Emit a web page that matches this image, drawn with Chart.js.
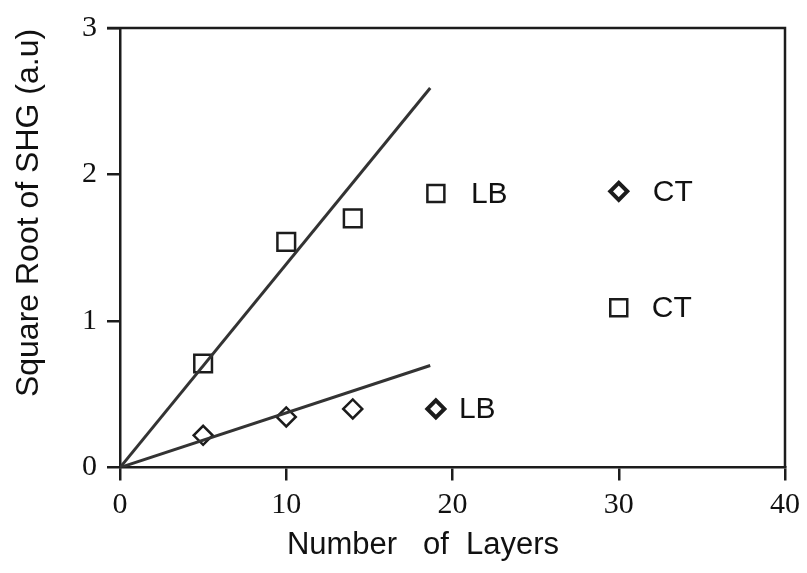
<!DOCTYPE html>
<html>
<head>
<meta charset="utf-8">
<script src="https://cdn.jsdelivr.net/npm/chart.js@4.4.1/dist/chart.umd.min.js"></script>
<style>
  html, body { margin: 0; padding: 0; background: #fff; }
  #wrap { width: 807px; height: 573px; }
</style>
</head>
<body>
<div id="wrap"><canvas id="c"></canvas></div>
<script>
// data
const layers = [5, 10, 14];
const sqValues = [0.71, 1.54, 1.70];
const dmValues = [0.22, 0.345, 0.40];

// fitted lines through the origin
const fitX = [0, 18.66];
const fitSq = [0, 2.59];
const fitDm = [0, 0.696];

// in-plot key (marker + label)
const keyLabels = ['LB', 'CT', 'CT', 'LB'];
const keyStyles = ['rect', 'rectRot', 'rect', 'rectRot'];
const keyX = [19, 30, 30, 19];
const keyY = [1.87, 1.885, 1.09, 0.40];

const xTicks = [0, 10, 20, 30, 40];
const yTicks = [0, 1, 2, 3];

const INK = '#1c1c1c';
const pts = (xs, ys) => xs.map((x, i) => ({ x, y: ys[i] }));

// frame, key labels and axis titles
const decor = {
  id: 'decor',
  afterDraw(chart) {
    const { ctx, chartArea: a, scales: { x, y } } = chart;
    ctx.save();
    ctx.strokeStyle = INK;
    ctx.lineWidth = 2.5;
    ctx.beginPath();
    ctx.moveTo(a.left - 13, a.top);
    ctx.lineTo(a.right, a.top);
    ctx.lineTo(a.right, a.bottom);
    ctx.stroke();

    ctx.fillStyle = '#111';
    ctx.font = '30px "Liberation Sans", Arial, sans-serif';
    ctx.textBaseline = 'middle';
    const gaps = [35, 34, 33, 23];
    keyLabels.forEach((t, i) => {
      ctx.fillText(t, x.getPixelForValue(keyX[i]) + gaps[i], y.getPixelForValue(keyY[i]) + 1);
    });

    ctx.textAlign = 'center';
    ctx.font = '31px "Liberation Sans", Arial, sans-serif';
    ctx.fillText('Number   of  Layers', 423, 545);

    ctx.translate(29, 213);
    ctx.rotate(-Math.PI / 2);
    ctx.font = '32px "Liberation Sans", Arial, sans-serif';
    ctx.fillText('Square Root of SHG (a.u)', 0, 0);
    ctx.restore();
  }
};

new Chart(document.getElementById('c'), {
  type: 'scatter',
  data: {
    datasets: [
      {
        type: 'line', data: pts(fitX, fitSq), borderColor: '#333', borderWidth: 3,
        pointRadius: 0, fill: false,
      },
      {
        type: 'line', data: pts(fitX, fitDm), borderColor: '#333', borderWidth: 3,
        pointRadius: 0, fill: false,
      },
      {
        data: pts(layers, sqValues), pointStyle: 'rect', pointRadius: 12.5,
        borderColor: INK, borderWidth: 2.5, backgroundColor: 'rgba(0,0,0,0)',
      },
      {
        data: pts(layers, dmValues), pointStyle: 'rectRot', pointRadius: 9.5,
        borderColor: INK, borderWidth: 2.5, backgroundColor: 'rgba(0,0,0,0)',
      },
      {
        data: pts(keyX, keyY), pointStyle: keyStyles,
        pointRadius: keyStyles.map(s => s === 'rect' ? 12 : 8.5),
        pointBorderWidth: keyStyles.map(s => s === 'rect' ? 2.5 : 4),
        borderColor: INK, backgroundColor: 'rgba(0,0,0,0)',
      },
    ],
  },
  options: {
    responsive: true,
    maintainAspectRatio: false,
    animation: false,
    events: [],
    layout: { padding: { top: 26, right: 19, left: 0, bottom: 0 } },
    plugins: { legend: { display: false }, tooltip: { enabled: false } },
    scales: {
      x: {
        type: 'linear', min: 0, max: 40,
        afterBuildTicks: s => { s.ticks = xTicks.map(v => ({ value: v })); },
        afterFit: s => { s.height = 105.5; },
        grid: { drawOnChartArea: false, drawTicks: true, tickLength: 13, color: INK, lineWidth: 2.5 },
        border: { display: true, color: INK, width: 2.5 },
        ticks: {
          color: '#111', padding: 7,
          font: { family: '"Liberation Serif", "Times New Roman", serif', size: 30 },
        },
      },
      y: {
        type: 'linear', min: 0, max: 3,
        afterBuildTicks: s => { s.ticks = yTicks.map(v => ({ value: v })); },
        afterFit: s => { s.width = 120; },
        grid: { drawOnChartArea: false, drawTicks: true, tickLength: 13, color: INK, lineWidth: 2.5 },
        border: { display: true, color: INK, width: 2.5 },
        ticks: {
          color: '#111', padding: 10,
          font: { family: '"Liberation Serif", "Times New Roman", serif', size: 30 },
        },
      },
    },
  },
  plugins: [decor],
});
</script>
</body>
</html>
